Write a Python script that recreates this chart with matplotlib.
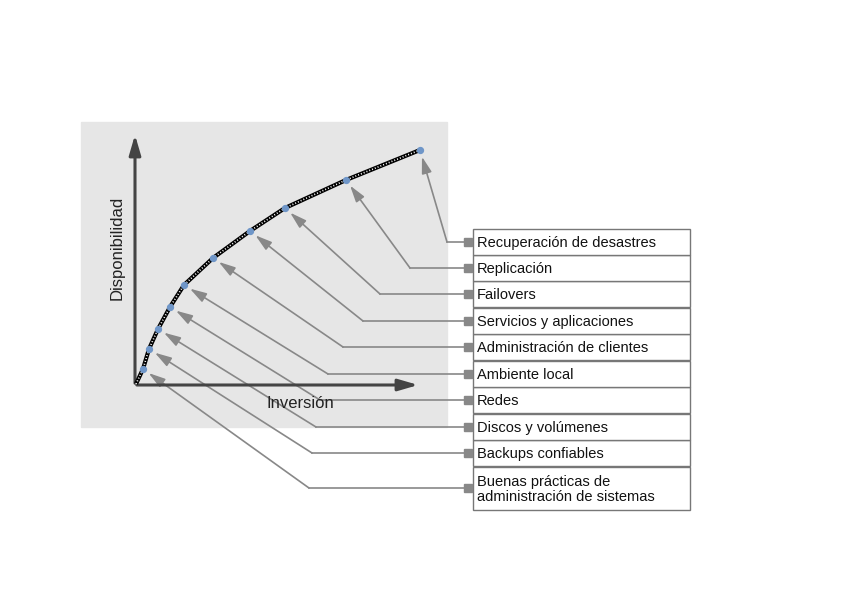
"""Availability vs investment diagram, drawn in pixel coordinates."""

import matplotlib
matplotlib.use("Agg")
import matplotlib.pyplot as plt
from matplotlib.patches import Rectangle

plt.rcParams["font.family"] = ["Liberation Sans", "DejaVu Sans"]

# Curve points (pixel coords), from bottom-left to top-right
point_x = [143, 149, 158, 170, 184, 213, 250, 285, 346, 420]
point_y = [369, 349, 329, 307, 285, 258, 231, 208, 180, 150]

labels = [
    "Buenas prácticas de\nadministración de sistemas",
    "Backups confiables",
    "Discos y volúmenes",
    "Redes",
    "Ambiente local",
    "Administración de clientes",
    "Servicios y aplicaciones",
    "Failovers",
    "Replicación",
    "Recuperación de desastres",
]
# connector y of each label and the x where its leader bends
label_y = [488, 453, 427, 400, 374, 347, 321, 294, 268, 242]
elbow_x = [309, 312, 316, 320, 328, 343, 363, 380, 410, 447]
box_top = [467, 440, 414, 387, 361, 334, 308, 281, 255, 229]
box_bottom = [510, 466, 440, 413, 387, 360, 334, 307, 281, 255]

GREY = "#888888"
DARK = "#444444"

fig = plt.figure(figsize=(8.42, 5.95), dpi=100)
ax = fig.add_axes([0, 0, 1, 1])
ax.set_xlim(0, 842)
ax.set_ylim(595, 0)
ax.axis("off")

ax.add_patch(Rectangle((81, 122), 366, 305, color="#e6e6e6", zorder=0))

# axes arrows
ax.annotate("", xy=(135, 132), xytext=(135, 386),
            arrowprops=dict(arrowstyle="-|>,head_length=1.2,head_width=0.35",
                            color=DARK, lw=2.2))
ax.annotate("", xy=(421, 385), xytext=(134, 385),
            arrowprops=dict(arrowstyle="-|>,head_length=1.2,head_width=0.35",
                            color=DARK, lw=2.2))
ax.text(117, 248, "Disponibilidad", rotation=90, ha="center", va="center",
        fontsize=12, color="#222222")
ax.text(300, 404, "Inversión", ha="center", va="center", fontsize=12,
        color="#222222")

# dotted curve
cx = [136] + point_x
cy = [384] + point_y
ax.plot(cx, cy, color="black", lw=3, zorder=3, solid_capstyle="butt")
ax.plot(cx, cy, color="white", lw=1.2, ls=(0, (0.6, 1.2)), zorder=4)
ax.scatter(point_x, point_y, s=18, color="#6f96c8", zorder=5)

# leaders and label boxes
for lbl, ly, ex, px, py, bt, bb in zip(labels, label_y, elbow_x, point_x,
                                        point_y, box_top, box_bottom):
    ax.plot([ex, 468], [ly, ly], color=GREY, lw=1.2, zorder=2)
    ax.annotate("", xy=(px, py), xytext=(ex, ly),
                arrowprops=dict(arrowstyle="-|>,head_length=1.0,head_width=0.3",
                                color=GREY, lw=1.2, shrinkA=0, shrinkB=5),
                zorder=2)
    ax.add_patch(Rectangle((464, ly - 4), 8, 8, color=GREY, zorder=3))
    ax.add_patch(Rectangle((473, bt), 217, bb - bt, facecolor="white",
                           edgecolor="#777777", lw=1, zorder=2))
    ax.text(477, (bt + bb) / 2 + 1, lbl, ha="left", va="center",
            fontsize=10.5, color="#111111", linespacing=1.1, zorder=4)

fig.savefig("out.png", dpi=100)
